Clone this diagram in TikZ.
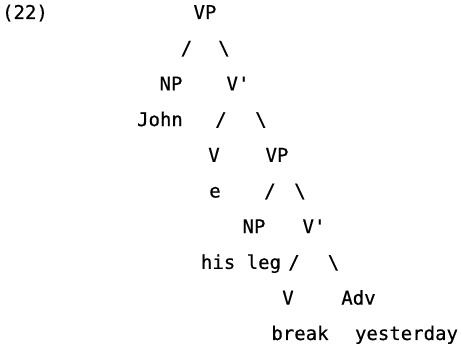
\documentclass[tikz,border=0pt]{standalone}
\usepackage{fontspec}
\newfontfamily\treefont[FakeBold=0.5]{DejaVu Sans Mono}
\usetikzlibrary{positioning}

\tikzset{
  word/.style={anchor=base, inner sep=0pt, font=\treefont\fontsize{19}{20}\selectfont},
}
\newcommand{\lbr}{/}
\newcommand{\rbr}{\textbackslash}
\newcommand{\vbar}{V\char39}

\begin{document}
\begin{tikzpicture}[x=1pt, y=-1pt]

		\useasboundingbox (0,0) rectangle (461,347);

		% example number and the top VP
		\node[word] (num) at (25,19) {(22)};
		\node[word] (vp1) at (205,19) {VP};
		\node[word] (l1) at (186.5,54.7) {\lbr};
		\node[word] (r1) at (224,54.7) {\rbr};

		% subject and first V'
		\node[word] (np1) at (171,90.4) {NP};
		\node[word] (vb1) at (238,90.4) {\vbar};
		\node[word] (john) at (160,126.1) {John};
		\node[word] (l2) at (221,126.1) {\lbr};
		\node[word] (r2) at (261,126.1) {\rbr};

		% empty verb and lower VP
		\node[word] (v1) at (214,161.8) {V};
		\node[word] (vp2) at (277,161.8) {VP};
		\node[word] (e) at (215,197.5) {e};
		\node[word] (l3) at (270,197.5) {\lbr};
		\node[word] (r3) at (300,197.5) {\rbr};

		% object and second V'
		\node[word] (np2) at (254,233.2) {NP};
		\node[word] (vb2) at (314,233.2) {\vbar};
		\node[word] (leg) at (241,268.9) {his leg};
		\node[word] (l4) at (294,268.9) {\lbr};
		\node[word] (r4) at (333.5,268.9) {\rbr};

		% verb and adverb
		\node[word] (v2) at (288,304.6) {V};
		\node[word] (adv) at (358.5,304.6) {Adv};
		\node[word] (brk) at (300,340) {break};
		\node[word] (yest) at (406.5,340) {yesterday};

\end{tikzpicture}
\end{document}
